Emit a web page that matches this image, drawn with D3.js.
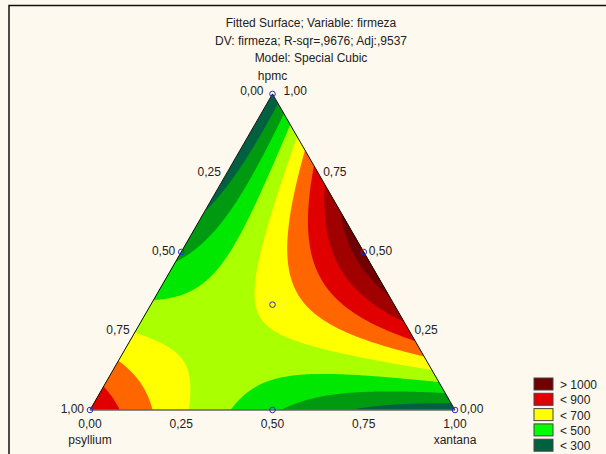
<!DOCTYPE html>
<html>
<head>
<meta charset="utf-8">
<script src="https://cdn.jsdelivr.net/npm/d3@7"></script>
<style>
  html, body { margin: 0; padding: 0; background: #fef9ee; }
  svg { display: block; }
  text { font-family: "Liberation Sans", Arial, sans-serif; font-size: 12px; fill: #222; }
</style>
</head>
<body>
<svg id="chart" width="606" height="454"></svg>
<script>
// Components in (hpmc, psyllium, xantana) order
const componentNames = ["hpmc", "psyllium", "xantana"];

// Simplex-centroid design: blends and fitted firmeza at each blend
const designPoints = [
  [1, 0, 0], [0, 1, 0], [0, 0, 1],
  [0.5, 0.5, 0], [0.5, 0, 0.5], [0, 0.5, 0.5],
  [1 / 3, 1 / 3, 1 / 3]
];
const designValues = [200, 900, 230, 377, 1060, 415, 630];

// Contour levels and class colours (lowest class first)
const thresholds = [300, 400, 500, 600, 700, 800, 900, 1000];
const levelColors = ["#006040", "#009a10", "#00e800", "#aaff00", "#ffff00",
                     "#ff6600", "#e00000", "#a00000", "#700000"];

// Legend entries
const legendLabels = ["> 1000", "< 900", "< 700", "< 500", "< 300"];
const legendColors = ["#700000", "#e00000", "#ffff00", "#00ff00", "#006040"];

// Axis ticks
const tickValues = [0, 0.25, 0.5, 0.75, 1];
const tickLabels = ["0,00", "0,25", "0,50", "0,75", "1,00"];

const titleLines = [
  "Fitted Surface; Variable: firmeza",
  "DV: firmeza; R-sqr=,9676; Adj:,9537",
  "Model: Special Cubic"
];

// ---- Special cubic coefficients from the design responses ----
const [y1, y2, y3, y12, y13, y23, y123] = designValues;
const b1 = y1, b2 = y2, b3 = y3;
const b12 = 4 * y12 - 2 * (y1 + y2);
const b13 = 4 * y13 - 2 * (y1 + y3);
const b23 = 4 * y23 - 2 * (y2 + y3);
const b123 = 27 * y123 - 12 * (y12 + y13 + y23) + 3 * (y1 + y2 + y3);

function model(h, p, x) {
  return b1 * h + b2 * p + b3 * x + b12 * h * p + b13 * h * x + b23 * p * x + b123 * h * p * x;
}

// ---- Geometry ----
const SQ3 = Math.sqrt(3) / 2;
const xScale = d3.scaleLinear().domain([0, 1]).range([90, 455]);
const yScale = d3.scaleLinear().domain([0, SQ3]).range([410, 410 - 365 * SQ3]);

function toXY(h, p, x) {
  return [xScale(x + h / 2), yScale(h * SQ3)];
}
function toBary(px, py) {
  const cy = yScale.invert(py), cx = xScale.invert(px);
  const h = cy / SQ3;
  const x = cx - h / 2;
  return [h, 1 - h - x, x];
}

const svg = d3.select("#chart");
svg.append("rect").attr("width", 606).attr("height", 454).attr("fill", "#fef9ee");

const vTop = toXY(1, 0, 0), vLeft = toXY(0, 1, 0), vRight = toXY(0, 0, 1);
const triPath = `M${vTop}L${vLeft}L${vRight}Z`;

svg.append("clipPath").attr("id", "tri").append("path").attr("d", triPath);

// ---- Sample the fitted surface on a pixel grid ----
const cell = 1.5, gx0 = 84, gy0 = 86;
const nx = Math.ceil((462 - gx0) / cell) + 1;
const ny = Math.ceil((414 - gy0) / cell) + 1;
const grid = new Float64Array(nx * ny);
for (let j = 0; j < ny; j++) {
  for (let i = 0; i < nx; i++) {
    const [h, p, x] = toBary(gx0 + i * cell, gy0 + j * cell);
    grid[i + j * nx] = model(h, p, x);
  }
}

const contours = d3.contours().size([nx, ny]).thresholds(thresholds)(grid);
const path = d3.geoPath(d3.geoIdentity().scale(cell).translate([gx0 - cell / 2, gy0 - cell / 2]));

const surface = svg.append("g").attr("clip-path", "url(#tri)");
surface.append("path").attr("d", triPath).attr("fill", levelColors[0]);
surface.selectAll("path.band")
  .data(contours)
  .join("path")
  .attr("class", "band")
  .attr("d", path)
  .attr("fill", (d, i) => levelColors[i + 1]);

// ---- Triangle outline ----
svg.append("path")
  .attr("d", `M${vRight}L${vTop}L${vLeft}`)
  .attr("fill", "none").attr("stroke", "#111").attr("stroke-width", 1);
svg.append("path")
  .attr("d", `M${vLeft}L${vRight}`)
  .attr("fill", "none").attr("stroke", "#666").attr("stroke-width", 1.5);

// ---- Tick labels ----
const labels = svg.append("g");
// left edge: psyllium fraction
tickValues.forEach((t, k) => {
  if (t === 0) return;
  const [px, py] = toXY(1 - t, t, 0);
  labels.append("text").attr("x", px - 6).attr("y", py + 3)
    .attr("text-anchor", "end").text(tickLabels[k]);
});
// right edge: hpmc fraction
tickValues.forEach((t, k) => {
  if (t === 1) return;
  const [px, py] = toXY(t, 0, 1 - t);
  labels.append("text").attr("x", px + 5).attr("y", py + 3)
    .attr("text-anchor", "start").text(tickLabels[k]);
});
// bottom edge: xantana fraction
tickValues.forEach((t, k) => {
  const [px, py] = toXY(0, 1 - t, t);
  labels.append("text").attr("x", px).attr("y", py + 18)
    .attr("text-anchor", "middle").text(tickLabels[k]);
});
// top vertex
labels.append("text").attr("x", vTop[0] - 9).attr("y", vTop[1] + 1)
  .attr("text-anchor", "end").text(tickLabels[0]);
labels.append("text").attr("x", vTop[0] + 11).attr("y", vTop[1] + 1)
  .attr("text-anchor", "start").text(tickLabels[4]);

// component names
labels.append("text").attr("x", vTop[0]).attr("y", vTop[1] - 14)
  .attr("text-anchor", "middle").text(componentNames[0]);
labels.append("text").attr("x", vLeft[0]).attr("y", vLeft[1] + 34)
  .attr("text-anchor", "middle").text(componentNames[1]);
labels.append("text").attr("x", vRight[0]).attr("y", vRight[1] + 34)
  .attr("text-anchor", "middle").text(componentNames[2]);

// ---- Design points ----
svg.append("g").selectAll("circle")
  .data(designPoints)
  .join("circle")
  .attr("cx", d => toXY(...d)[0])
  .attr("cy", d => toXY(...d)[1])
  .attr("r", 2.8)
  .attr("fill", "none")
  .attr("stroke", "#2a2ad0")
  .attr("stroke-width", 1);

// ---- Title ----
svg.append("g").selectAll("text")
  .data(titleLines)
  .join("text")
  .attr("x", 311)
  .attr("y", (d, i) => 27 + i * 17.5)
  .attr("text-anchor", "middle")
  .text(d => d);

// ---- Legend ----
const legend = svg.append("g").attr("transform", "translate(534,378)");
const li = legend.selectAll("g").data(legendLabels).join("g")
  .attr("transform", (d, i) => `translate(0,${i * 15.3})`);
li.append("rect").attr("width", 19).attr("height", 12)
  .attr("fill", (d, i) => legendColors[i])
  .attr("stroke", "#444").attr("stroke-width", 1);
li.append("text").attr("x", 26).attr("y", 11).text(d => d);

// ---- Frame ----
svg.append("path").attr("d", "M9,454V5.5H606")
  .attr("fill", "none").attr("stroke", "#111").attr("stroke-width", 1.5);
</script>
</body>
</html>
